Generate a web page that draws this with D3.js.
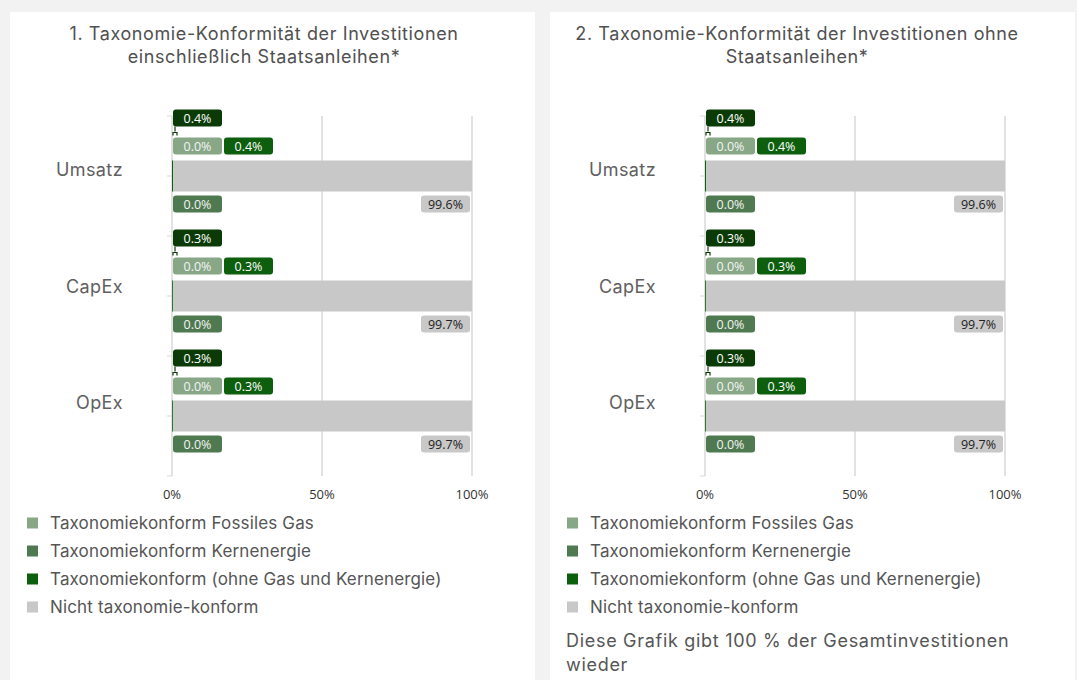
<!DOCTYPE html>
<html>
<head>
<meta charset="utf-8">
<script src="https://cdn.jsdelivr.net/npm/d3@7"></script>
<style>
  body { margin: 0; background: #f2f2f2; }
  svg { display: block; }
</style>
</head>
<body>
<div id="chart"></div>
<script>
var w = 1077;
var h = 680;

// categories and values (percent)
var categories = ["Umsatz", "CapEx", "OpEx"];
var seriesNames = [
  "Taxonomiekonform Fossiles Gas",
  "Taxonomiekonform Kernenergie",
  "Taxonomiekonform (ohne Gas und Kernenergie)",
  "Nicht taxonomie-konform"
];
var gas1 = [0.0, 0.0, 0.0];
var nuclear1 = [0.0, 0.0, 0.0];
var aligned1 = [0.4, 0.3, 0.3];
var notAligned1 = [99.6, 99.7, 99.7];
var total1 = [0.4, 0.3, 0.3];

var gas2 = [0.0, 0.0, 0.0];
var nuclear2 = [0.0, 0.0, 0.0];
var aligned2 = [0.4, 0.3, 0.3];
var notAligned2 = [99.6, 99.7, 99.7];
var total2 = [0.4, 0.3, 0.3];

var xTicks = [0, 50, 100];

var colors = ["#87a787", "#4f7a51", "#0d5e0d", "#c8c8c8"];
var totalColor = "#0a3b06";
var font = "Inter, 'Noto Sans', sans-serif";

var svg = d3.select("#chart").append("svg")
  .attr("width", w)
  .attr("height", h);

// panels
var panels = [
  { x: 10, width: 525, x0: 162, title: ["1. Taxonomie-Konformität der Investitionen", "einschließlich Staatsanleihen*"],
    gas: gas1, nuclear: nuclear1, aligned: aligned1, notAligned: notAligned1, total: total1, note: false },
  { x: 550, width: 525, x0: 155, title: ["2. Taxonomie-Konformität der Investitionen ohne", "Staatsanleihen*"],
    gas: gas2, nuclear: nuclear2, aligned: aligned2, notAligned: notAligned2, total: total2, note: true }
];

panels.forEach(function (p) {
  var g = svg.append("g").attr("transform", "translate(" + p.x + ",0)");

  g.append("rect")
    .attr("x", 0).attr("y", 12)
    .attr("width", p.width).attr("height", h - 12)
    .attr("fill", "#ffffff");

  // title
  g.selectAll(".title")
    .data(p.title)
    .enter().append("text")
    .attr("x", p.x0 + 92)
    .attr("y", (d, i) => 40 + i * 23)
    .attr("text-anchor", "middle")
    .attr("font-family", font)
    .attr("font-size", 18)
    .attr("letter-spacing", 0.6)
    .attr("fill", "#505050")
    .text(d => d);

  var x = d3.scaleLinear().domain([0, 100]).range([p.x0, p.x0 + 300]);
  var y = d3.scaleBand().domain(categories).range([116, 476]);

  // gridlines
  g.selectAll(".grid")
    .data(xTicks.slice(1))
    .enter().append("line")
    .attr("x1", d => x(d)).attr("x2", d => x(d))
    .attr("y1", 116).attr("y2", 476)
    .attr("stroke", "#d9d9d9")
    .attr("stroke-width", 1.5);

  // y axis line + ticks (band edges and centers)
  g.append("line")
    .attr("x1", x(0)).attr("x2", x(0))
    .attr("y1", 116).attr("y2", 476)
    .attr("stroke", "#d9d9d9")
    .attr("stroke-width", 1.5);

  var tickYs = [];
  categories.forEach(function (c) {
    tickYs.push(y(c));
    tickYs.push(y(c) + y.bandwidth() / 2);
  });
  tickYs.push(476);
  g.selectAll(".ytick")
    .data(tickYs)
    .enter().append("line")
    .attr("x1", x(0) - 5).attr("x2", x(0))
    .attr("y1", d => d).attr("y2", d => d)
    .attr("stroke", "#d9d9d9");

  // category labels
  g.selectAll(".cat")
    .data(categories)
    .enter().append("text")
    .attr("x", x(0) - 49)
    .attr("y", (d, i) => y(d) + y.bandwidth() / 2 - 6 - i * 3.5)
    .attr("dy", "0.35em")
    .attr("text-anchor", "end")
    .attr("font-family", font)
    .attr("font-size", 18)
    .attr("letter-spacing", 0.4)
    .attr("fill", "#606060")
    .text(d => d);

  // x tick labels
  g.selectAll(".xtick")
    .data(xTicks)
    .enter().append("text")
    .attr("x", d => x(d))
    .attr("y", 499)
    .attr("text-anchor", "middle")
    .attr("font-family", "'Open Sans', sans-serif")
    .attr("font-size", 13)
    .attr("fill", "#333333")
    .text(d => d + "%");

  // stacked bars
  var barH = 31;
  var rows = categories.map(function (c, i) {
    return { cat: c, vals: [p.gas[i], p.nuclear[i], p.aligned[i], p.notAligned[i]], total: p.total[i] };
  });

  rows.forEach(function (r) {
    var cy = y(r.cat) + y.bandwidth() / 2;
    var top = cy - barH / 2;
    var acc = 0;
    r.vals.forEach(function (v, k) {
      g.append("rect")
        .attr("x", x(acc))
        .attr("y", top)
        .attr("width", x(acc + v) - x(acc))
        .attr("height", barH)
        .attr("fill", colors[k]);
      acc += v;
    });

    // data labels
    var lw = 49, lh = 17;
    var labels = [
      { v: r.total, fill: totalColor, tx: x(0) + 1, ty: top - 51, text: "#fff" },
      { v: r.vals[0], fill: colors[0], tx: x(0) + 1, ty: top - 23, text: "#f4f4f4" },
      { v: r.vals[2], fill: colors[2], tx: x(0) + 52, ty: top - 23, text: "#fff" },
      { v: r.vals[1], fill: colors[1], tx: x(0) + 1, ty: top + barH + 4, text: "#f4f4f4" },
      { v: r.vals[3], fill: colors[3], tx: x(100) - lw - 2, ty: top + barH + 4, text: "#222" }
    ];
    labels.forEach(function (l) {
      g.append("rect")
        .attr("x", l.tx).attr("y", l.ty)
        .attr("width", lw).attr("height", lh)
        .attr("rx", 3)
        .attr("fill", l.fill);
      g.append("text")
        .attr("x", l.tx + lw / 2)
        .attr("y", l.ty + lh / 2)
        .attr("dy", "0.36em")
        .attr("text-anchor", "middle")
        .attr("font-family", "'Open Sans', sans-serif")
        .attr("font-size", 12.5)
        .attr("fill", l.text)
        .text(l.v.toFixed(1) + "%");
    });

    // small bracket connecting the total label to the bar labels
    var bx = x(0) + 3;
    g.append("path")
      .attr("d", "M" + bx + "," + (top - 34) + "v5 M" + (bx - 2) + "," + (top - 25) +
        "v-3 h4 v3")
      .attr("fill", "none")
      .attr("stroke", totalColor)
      .attr("stroke-width", 1.2);
  });

  // legend
  var legend = g.selectAll(".legend-item")
    .data(seriesNames)
    .enter().append("g")
    .attr("transform", (d, i) => "translate(17," + (523 + i * 28) + ")");

  legend.append("rect")
    .attr("x", 0).attr("y", -5.5)
    .attr("width", 11).attr("height", 11)
    .attr("fill", (d, i) => colors[i]);

  legend.append("text")
    .attr("x", 23)
    .attr("y", 0)
    .attr("dy", "0.35em")
    .attr("font-family", font)
    .attr("font-size", 17)
    .attr("letter-spacing", 0.15)
    .attr("fill", "#555555")
    .text(d => d);

  if (p.note) {
    g.selectAll(".note")
      .data(["Diese Grafik gibt 100 % der Gesamtinvestitionen", "wieder"])
      .enter().append("text")
      .attr("x", 16)
      .attr("y", (d, i) => 647 + i * 24)
      .attr("font-family", font)
      .attr("font-size", 18)
      .attr("letter-spacing", 0.7)
      .attr("fill", "#555555")
      .text(d => d);
  }
});
</script>
</body>
</html>
